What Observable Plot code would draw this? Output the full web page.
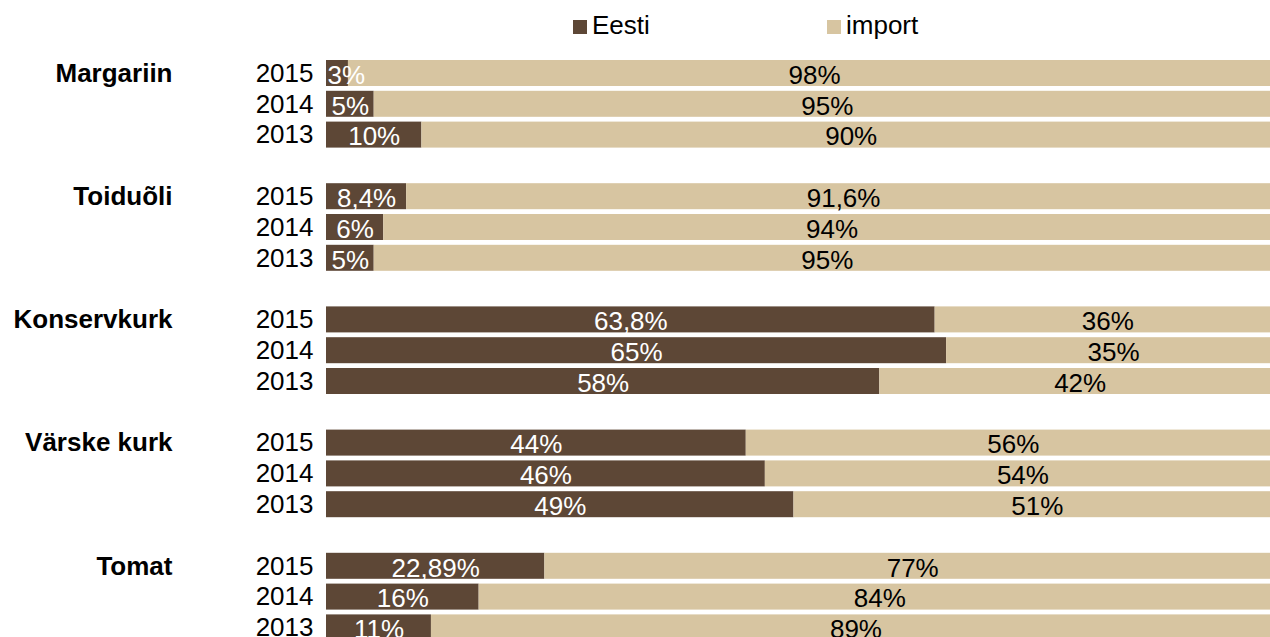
<!DOCTYPE html>
<html>
<head>
<meta charset="utf-8">
<script src="https://cdn.jsdelivr.net/npm/d3@7"></script>
<script src="https://cdn.jsdelivr.net/npm/@observablehq/plot@0.6"></script>
<style>
  html, body { margin: 0; padding: 0; background: #fff; }
  body { width: 1270px; height: 637px; overflow: hidden; position: relative; font-family: Arial, "Liberation Sans", sans-serif; }
  #legend { position: absolute; top: 0; left: 0; width: 1270px; height: 50px; font-size: 26px; color: #000; }
  .sw { position: absolute; width: 14px; height: 14px; top: 20px; }
  .lt { position: absolute; top: 11px; line-height: 28px; }
  #chart { position: absolute; top: 0; left: 0; }
  #chart svg { overflow: hidden; }
</style>
</head>
<body>
<div id="legend">
  <div class="sw" style="left:573px;background:#5D4736"></div><div class="lt" style="left:592px">Eesti</div>
  <div class="sw" style="left:827px;background:#D7C5A1"></div><div class="lt" style="left:846px">import</div>
</div>
<div id="chart"></div>
<script>
const categories = ["Margariin", "Toiduõli", "Konservkurk", "Värske kurk", "Tomat"];
const years = ["2015", "2014", "2013"];
// Eesti share (%) per category, in year order 2015, 2014, 2013
const eestiValues = [
  [2.3, 5, 10],
  [8.4, 6, 5],
  [63.8, 65, 58],
  [44, 46, 49],
  [22.89, 16, 11]
];
const importValues = [
  [97.7, 95, 90],
  [91.6, 94, 95],
  [36.2, 35, 42],
  [56, 54, 51],
  [77.11, 84, 89]
];
const eestiLabels = [
  ["3%", "5%", "10%"],
  ["8,4%", "6%", "5%"],
  ["63,8%", "65%", "58%"],
  ["44%", "46%", "49%"],
  ["22,89%", "16%", "11%"]
];
const importLabels = [
  ["98%", "95%", "90%"],
  ["91,6%", "94%", "95%"],
  ["36%", "35%", "42%"],
  ["56%", "54%", "51%"],
  ["77%", "84%", "89%"]
];

const DARK = "#5D4736", LIGHT = "#D7C5A1";

const rowKeys = [];
const rows = [];
categories.forEach((c, ci) => {
  if (ci > 0) rowKeys.push("gap" + ci);
  years.forEach((y, yi) => {
    const key = c + "|" + y;
    rowKeys.push(key);
    const e = eestiValues[ci][yi], im = importValues[ci][yi];
    rows.push({key, category: c, year: y, first: yi === 0,
      e, im, eLabel: eestiLabels[ci][yi], iLabel: importLabels[ci][yi]});
  });
});

const FS = 26;
const chart = Plot.plot({
  width: 1270,
  height: 637,
  marginLeft: 0, marginRight: 0, marginTop: 0, marginBottom: 0,
  style: {fontFamily: "Arial, 'Liberation Sans', sans-serif", fontSize: FS + "px", background: "transparent", color: "#000"},
  x: {domain: [0, 100], range: [326, 1280], axis: null},
  y: {domain: rowKeys, range: [57.6, 642.8], paddingInner: 0.156, paddingOuter: 0.078, round: false, axis: null},
  marks: [
    Plot.barX(rows, {y: "key", x1: 0, x2: "e", fill: DARK}),
    Plot.barX(rows, {y: "key", x1: "e", x2: d => d.e + d.im, fill: LIGHT}),
    Plot.text(rows.filter(d => d.e >= 3), {y: "key", x: d => d.e / 2, text: "eLabel", fill: "white", dy: 2, fontSize: FS}),
    Plot.text(rows.filter(d => d.e < 3), {y: "key", x: 0, text: "eLabel", fill: "white", textAnchor: "start", dx: 1, dy: 2, fontSize: FS}),
    Plot.text(rows, {y: "key", x: d => d.e + d.im / 2, text: "iLabel", fill: "black", dy: 2, fontSize: FS}),
    Plot.text(rows, {y: "key", x: 0, text: "year", textAnchor: "end", dx: -13, fill: "black", fontSize: FS}),
    Plot.text(rows.filter(d => d.first), {y: "key", x: 0, text: "category", textAnchor: "end", dx: -154, fill: "black", fontWeight: "bold", fontSize: FS})
  ]
});
document.getElementById("chart").appendChild(chart);
</script>
</body>
</html>
